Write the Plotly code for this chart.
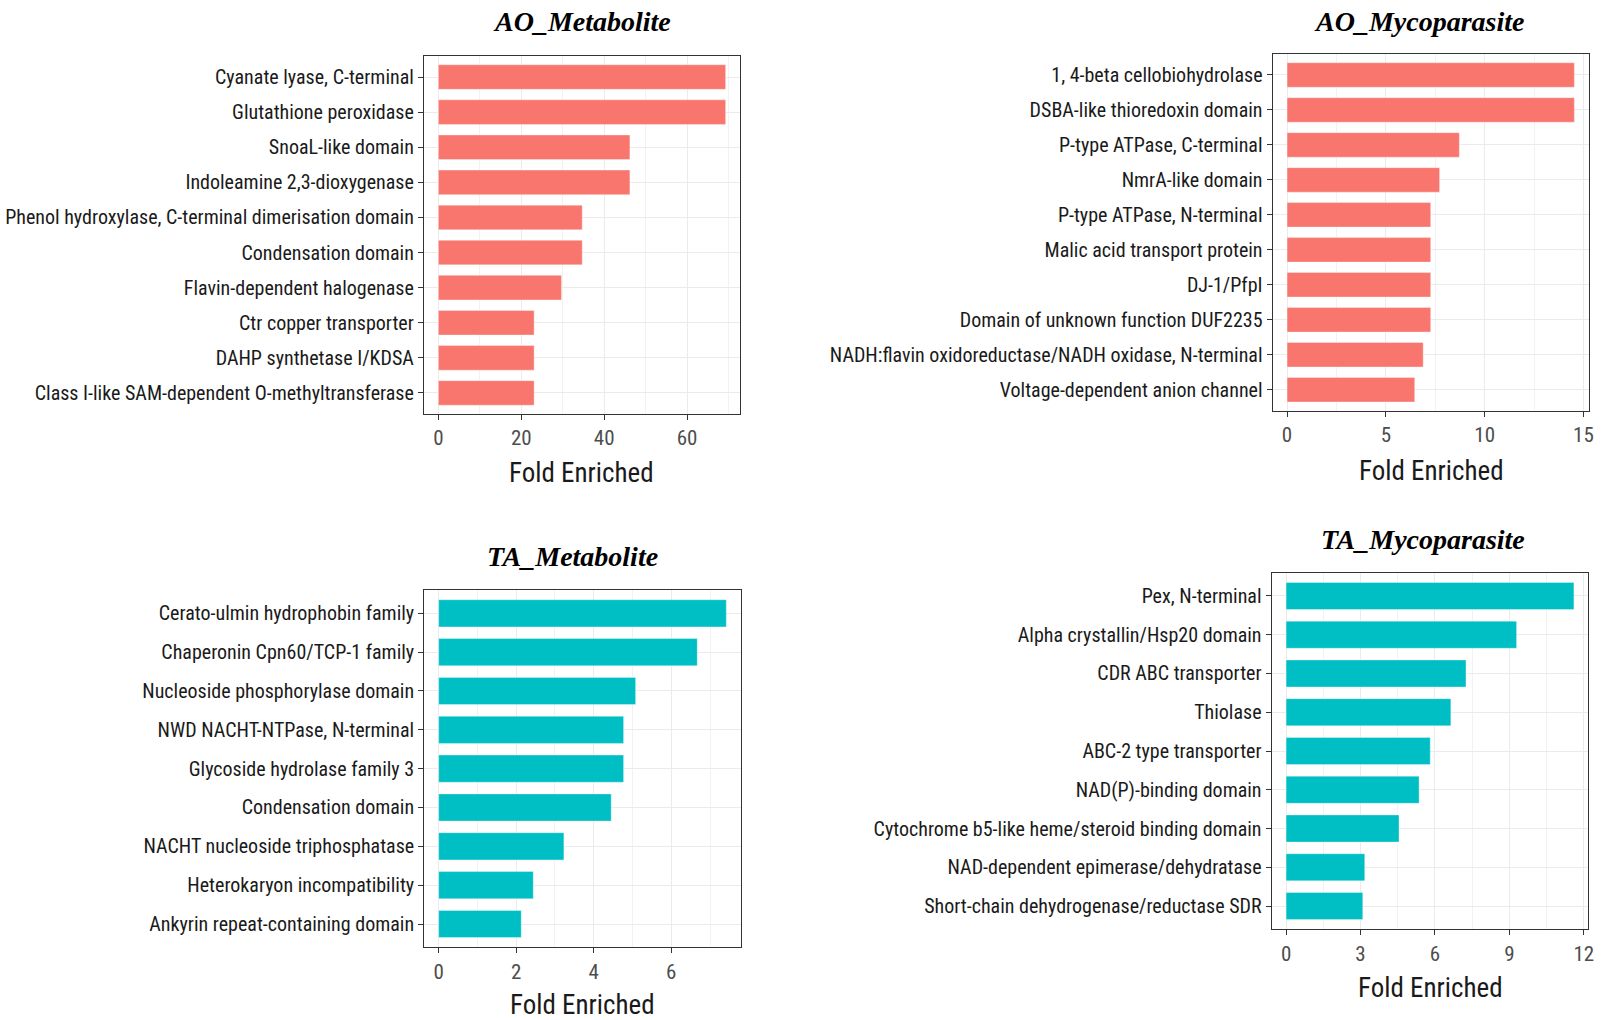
import plotly.graph_objects as go

# ---------------- data ----------------
ao_met_labels = ["Cyanate lyase, C-terminal", "Glutathione peroxidase", "SnoaL-like domain",
                 "Indoleamine 2,3-dioxygenase", "Phenol hydroxylase, C-terminal dimerisation domain",
                 "Condensation domain", "Flavin-dependent halogenase", "Ctr copper transporter",
                 "DAHP synthetase I/KDSA", "Class I-like SAM-dependent O-methyltransferase"]
ao_met_values = [69.3, 69.3, 46.2, 46.2, 34.7, 34.7, 29.7, 23.1, 23.1, 23.1]

ao_myco_labels = ["1, 4-beta cellobiohydrolase", "DSBA-like thioredoxin domain", "P-type ATPase, C-terminal",
                  "NmrA-like domain", "P-type ATPase, N-terminal", "Malic acid transport protein",
                  "DJ-1/PfpI", "Domain of unknown function DUF2235",
                  "NADH:flavin oxidoreductase/NADH oxidase, N-terminal", "Voltage-dependent anion channel"]
ao_myco_values = [14.54, 14.54, 8.72, 7.72, 7.27, 7.27, 7.27, 7.27, 6.89, 6.46]

ta_met_labels = ["Cerato-ulmin hydrophobin family", "Chaperonin Cpn60/TCP-1 family",
                 "Nucleoside phosphorylase domain", "NWD NACHT-NTPase, N-terminal",
                 "Glycoside hydrolase family 3", "Condensation domain", "NACHT nucleoside triphosphatase",
                 "Heterokaryon incompatibility", "Ankyrin repeat-containing domain"]
ta_met_values = [7.42, 6.67, 5.08, 4.77, 4.77, 4.45, 3.23, 2.44, 2.13]

ta_myco_labels = ["Pex, N-terminal", "Alpha crystallin/Hsp20 domain", "CDR ABC transporter", "Thiolase",
                  "ABC-2 type transporter", "NAD(P)-binding domain",
                  "Cytochrome b5-like heme/steroid binding domain", "NAD-dependent epimerase/dehydratase",
                  "Short-chain dehydrogenase/reductase SDR"]
ta_myco_values = [11.6, 9.29, 7.25, 6.64, 5.81, 5.36, 4.55, 3.17, 3.09]

titles = ["AO_Metabolite", "AO_Mycoparasite", "TA_Metabolite", "TA_Mycoparasite"]
x_ticks = [[0, 20, 40, 60], [0, 5, 10, 15], [0, 2, 4, 6], [0, 3, 6, 9, 12]]

# ---------------- layout ----------------
W, H = 1601, 1020
RED, CYAN = "#F8766D", "#00BFC4"
NARROW = "Liberation Sans Narrow, Arial Narrow, Roboto Condensed, Liberation Sans, sans-serif"

panels = [
    dict(labels=ao_met_labels, values=ao_met_values, color=RED, box=(424, 740, 56, 414),
         title_pos=(582, 21), xt_pos=(581.5, 473)),
    dict(labels=ao_myco_labels, values=ao_myco_values, color=RED, box=(1272.7, 1588.7, 54, 410.7),
         title_pos=(1419, 21), xt_pos=(1431, 471)),
    dict(labels=ta_met_labels, values=ta_met_values, color=CYAN, box=(424.3, 740.7, 590, 947.3),
         title_pos=(572, 556), xt_pos=(582, 1005)),
    dict(labels=ta_myco_labels, values=ta_myco_values, color=CYAN, box=(1271.7, 1588.3, 572.7, 929.3),
         title_pos=(1423, 539), xt_pos=(1430, 988)),
]

fig = go.Figure()
annotations = []
for i, p in enumerate(panels):
    k = "" if i == 0 else str(i + 1)
    xa, ya = "x" + k, "y" + k
    n = len(p["labels"])
    fig.add_trace(go.Bar(x=p["values"], y=p["labels"], orientation="h", xaxis=xa, yaxis=ya,
                         marker=dict(color=p["color"], line=dict(color="rgba(255,255,255,0.35)", width=1)),
                         width=0.7, showlegend=False, hoverinfo="x+y"))
    x0, x1, y0, y1 = p["box"]
    vmax = max(p["values"])
    ticks = x_ticks[i]
    step = ticks[1] - ticks[0]
    fig.layout["xaxis" + k] = dict(
        domain=[x0 / W, x1 / W], anchor=ya, range=[-0.05 * vmax, 1.05 * vmax],
        tickvals=ticks, ticktext=[str(t) for t in ticks], automargin=False,
        showgrid=True, gridcolor="#EBEBEB", gridwidth=1.3,
        minor=dict(dtick=step / 2, tick0=step / 2, showgrid=True, gridcolor="#F2F2F2", gridwidth=0.8),
        ticks="outside", ticklen=5, tickwidth=1.3, tickcolor="#333333",
        tickfont=dict(family=NARROW, size=21, color="#4D4D4D"),
        showline=True, linecolor="#333333", linewidth=1.3, mirror=True, zeroline=False,
        fixedrange=True)
    fig.layout["yaxis" + k] = dict(
        domain=[1 - y1 / H, 1 - y0 / H], anchor=xa, type="category", automargin=False,
        categoryorder="array", categoryarray=p["labels"][::-1], range=[-0.6, n - 0.4],
        showgrid=True, gridcolor="#EBEBEB", gridwidth=1.3,
        ticks="outside", ticklen=5, tickwidth=1.3, tickcolor="#333333",
        tickfont=dict(family=NARROW, size=20, color="#1A1A1A"),
        showline=True, linecolor="#333333", linewidth=1.3, mirror=True, zeroline=False,
        fixedrange=True)
    tx, ty = p["title_pos"]
    annotations.append(dict(text="<b><i>" + titles[i] + "</i></b>", x=tx / W, y=1 - ty / H,
                            xref="paper", yref="paper", showarrow=False, xanchor="center", yanchor="middle",
                            font=dict(family="Liberation Serif, Times New Roman, serif", size=28, color="#000000")))
    ax_, ay_ = p["xt_pos"]
    annotations.append(dict(text="Fold Enriched", x=ax_ / W, y=1 - ay_ / H,
                            xref="paper", yref="paper", showarrow=False, xanchor="center", yanchor="middle",
                            font=dict(family=NARROW, size=27, color="#1A1A1A")))

fig.update_layout(width=W, height=H, margin=dict(l=0, r=0, t=0, b=0),
                  paper_bgcolor="white", plot_bgcolor="white", annotations=annotations,
                  bargap=0.3)

fig.write_html("out.html", config={"displayModeBar": False},
               post_script="document.body.style.margin='0';")
